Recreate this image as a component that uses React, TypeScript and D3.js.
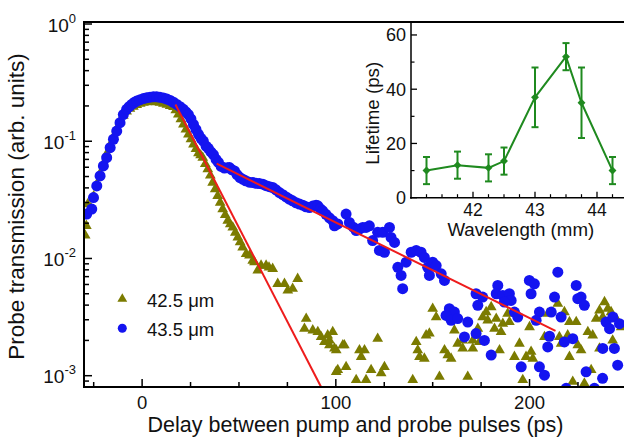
import React from 'react';
import * as d3 from 'd3';

// ---- Main plot data: delay (ps), probe transmission (arb. units) ----
const blueData: [number, number][] = [
  [-28.6, 0.0239], [-26.0, 0.0264], [-25.1, 0.0331], [-23.4, 0.0416], [-21.7, 0.0506], [-20.0, 0.0615],
  [-18.3, 0.0724], [-16.5, 0.0881], [-14.8, 0.104], [-13.1, 0.122], [-11.4, 0.144], [-9.7, 0.169],
  [-8.0, 0.187], [-6.7, 0.197], [-5.4, 0.206], [-4.1, 0.214], [-2.8, 0.22], [-1.0, 0.226], [0.7, 0.231],
  [2.4, 0.235], [4.1, 0.2375], [5.8, 0.239], [7.5, 0.239], [9.2, 0.237], [11.0, 0.234], [12.8, 0.229],
  [14.5, 0.223], [16.2, 0.215], [17.9, 0.206], [19.6, 0.197], [21.3, 0.187], [22.6, 0.178], [23.9, 0.169],
  [25.2, 0.155], [26.5, 0.139], [27.8, 0.126], [29.1, 0.1145], [30.4, 0.106], [31.6, 0.1004], [33.0, 0.091],
  [34.2, 0.087], [35.5, 0.081], [36.8, 0.077], [38.2, 0.07], [39.4, 0.066], [40.8, 0.061], [42.5, 0.059],
  [44.0, 0.0595], [45.1, 0.0596], [46.4, 0.057], [47.7, 0.0558], [49.0, 0.052], [50.5, 0.049], [51.9, 0.0475],
  [53.5, 0.046], [55.3, 0.0447], [57.1, 0.0444], [58.8, 0.0438], [60.5, 0.0435], [62.3, 0.043], [64.0, 0.0418],
  [65.7, 0.041], [67.4, 0.0403], [69.1, 0.0385], [70.9, 0.0365], [72.6, 0.035], [74.3, 0.0335], [76.0, 0.0321],
  [77.7, 0.031], [79.5, 0.0298], [81.2, 0.0291], [82.9, 0.0285], [84.6, 0.0276], [86.4, 0.0272], [88.1, 0.028],
  [89.8, 0.0285], [90.7, 0.0281], [92.0, 0.0265], [93.2, 0.0255], [94.9, 0.0238], [96.7, 0.0222], [98.4, 0.021],
  [99.3, 0.019], [101.0, 0.0197], [105.3, 0.0239], [107.0, 0.0203], [109.0, 0.0185], [110.5, 0.0173],
  [112.2, 0.0178], [113.9, 0.0184], [115.6, 0.0184], [117.3, 0.019], [119.0, 0.0142], [121.6, 0.0167],
  [124.2, 0.0167], [122.5, 0.0117], [125.1, 0.0113], [127.7, 0.0184], [128.5, 0.0151], [130.3, 0.0137],
  [132.0, 0.0084], [133.7, 0.00716], [134.5, 0.00552], [136.3, 0.00929], [138.9, 0.0113], [141.5, 0.0117],
  [144.0, 0.0113], [145.7, 0.0102], [147.4, 0.0084], [148.3, 0.00716], [150.0, 0.00929], [151.8, 0.0087],
  [154.4, 0.0074], [156.1, 0.00649], [158.6, 0.00373], [161.2, 0.00349], [156.9, 0.00327], [159.5, 0.00297],
  [162.9, 0.00307], [168.1, 0.00287], [166.4, 0.00214], [172.4, 0.005], [173.3, 0.00398], [172.4, 0.00229],
  [175.8, 0.00468], [183.6, 0.00589], [182.8, 0.005], [186.2, 0.00484], [189.6, 0.005], [190.5, 0.00439],
  [187.0, 0.00425], [192.2, 0.00349], [193.9, 0.00316], [199.9, 0.00649], [202.5, 0.00608], [200.8, 0.005],
  [205.1, 0.00349], [203.4, 0.00297], [214.6, 0.00764], [212.9, 0.00468], [211.2, 0.00349], [216.3, 0.00316],
  [210.3, 0.00217], [209.4, 0.00176], [205.1, 0.00119], [207.7, 0.00101], [195.7, 0.00119], [180.2, 0.0015],
  [176.7, 0.002], [224.1, 0.00589], [226.6, 0.00468], [224.9, 0.00454], [228.3, 0.00398], [222.3, 0.00207],
  [218.0, 0.00194], [237.8, 0.00171], [239.5, 0.00287], [243.0, 0.00316], [241.3, 0.00252], [246.4, 0.00278],
  [243.8, 0.00171], [245.5, 0.00123], [229.2, 0.00108], [218.9, 0.00078], [233.5, 0.00078], [237.7, 0.00095],
];

const oliveData: [number, number][] = [
  [-29.4, 0.0157], [-28.8, 0.019], [-28.1, 0.0291], [-26.5, 0.027], [-25.0, 0.034], [-23.4, 0.043],
  [-21.7, 0.053], [-20.0, 0.064], [-18.3, 0.078], [-16.5, 0.093], [-14.8, 0.109], [-13.1, 0.127],
  [-11.4, 0.148], [-9.7, 0.165], [-8.0, 0.18], [-6.3, 0.19], [-4.5, 0.197], [-2.8, 0.204], [-1.0, 0.209],
  [0.7, 0.213], [2.4, 0.216], [4.1, 0.217], [5.8, 0.217], [7.5, 0.216], [9.2, 0.213], [11.0, 0.209],
  [12.8, 0.205], [14.5, 0.2], [16.2, 0.196], [17.4, 0.184], [18.7, 0.169], [20.0, 0.154], [21.3, 0.139],
  [22.6, 0.126], [23.9, 0.1145], [25.2, 0.104], [26.5, 0.094], [27.8, 0.086], [29.1, 0.079], [30.2, 0.076],
  [31.3, 0.0724], [32.6, 0.064], [33.9, 0.0577], [35.2, 0.051], [36.4, 0.0444], [37.7, 0.039], [39.0, 0.0342],
  [40.3, 0.03], [41.6, 0.0264], [42.9, 0.0235], [44.2, 0.021], [45.5, 0.0196], [46.8, 0.0184], [48.1, 0.0166],
  [49.4, 0.0151], [50.6, 0.0138], [51.9, 0.01245], [53.7, 0.01094], [55.4, 0.0106], [57.1, 0.0096],
  [58.0, 0.0093], [59.7, 0.0079], [61.4, 0.0087], [64.0, 0.0087], [65.5, 0.0084], [67.4, 0.00816],
  [70.0, 0.00608], [73.5, 0.00608], [75.2, 0.00533], [77.7, 0.00552], [80.3, 0.00671], [84.7, 0.00307],
  [83.8, 0.00252], [88.1, 0.00244], [90.7, 0.00236], [92.4, 0.00214], [95.8, 0.00221], [98.4, 0.00236],
  [94.1, 0.00194], [96.7, 0.00182], [100.2, 0.00165], [104.4, 0.00182], [101.0, 0.00112], [105.3, 0.00119],
  [96.7, 0.002], [99.3, 0.00171], [103.6, 0.00182], [100.2, 0.00108], [110.5, 0.00092], [115.6, 0.00092],
  [112.2, 0.00165], [114.8, 0.00165], [113.1, 0.00145], [121.6, 0.00207], [118.2, 0.00112], [123.4, 0.00105],
  [125.1, 0.00119], [139.7, 0.00092], [141.5, 0.00194], [142.3, 0.00165], [143.2, 0.00145], [145.7, 0.0014],
  [146.6, 0.00221], [148.3, 0.00229], [150.0, 0.00373], [151.8, 0.00316], [156.1, 0.00165], [157.8, 0.0015],
  [159.5, 0.0014], [161.2, 0.00244], [162.9, 0.00188], [165.5, 0.00171], [170.7, 0.00171], [153.5, 0.00098],
  [168.1, 0.00098], [172.4, 0.00221], [174.1, 0.00194], [170.7, 0.002], [173.3, 0.00252], [175.8, 0.00316],
  [177.6, 0.00349], [180.2, 0.00385], [178.4, 0.00297], [182.8, 0.00307], [181.9, 0.00252], [186.2, 0.00278],
  [185.3, 0.00236], [188.7, 0.00338], [189.6, 0.00287], [184.5, 0.00165], [194.8, 0.00188], [200.0, 0.0026],
  [198.2, 0.00145], [200.8, 0.0016], [201.7, 0.0014], [196.5, 0.00092], [209.4, 0.00338], [207.7, 0.00214],
  [214.6, 0.00411], [218.0, 0.00349], [216.3, 0.00188], [219.7, 0.00221], [220.6, 0.00145], [222.3, 0.00089],
  [224.1, 0.00287], [224.9, 0.00182], [226.6, 0.00165], [230.1, 0.00236], [232.6, 0.00221], [231.8, 0.00112],
  [234.4, 0.00307], [236.1, 0.0036], [238.7, 0.00425], [240.4, 0.00373], [237.8, 0.00316], [242.1, 0.00349],
  [244.7, 0.00307], [247.3, 0.0026], [242.9, 0.002], [228.3, 0.00086], [165.5, 0.002], [192.2, 0.00145],
  [215.4, 0.00214], [220.6, 0.00287], [236.1, 0.00171],
];

const fitFast: [number, number][] = [[17.2, 0.206], [92.4, 0.0008]];
const fitSlow: [number, number][] = [[38.5, 0.0644], [213.4, 0.00241]];

const xMajorTicks = [0, 100, 200];
const xMinorTicks = [-25, 25, 50, 75, 125, 150, 175, 225, 250];
const yDecades = [-3, -2, -1, 0];
const legendLabels = ['42.5 \u03BCm', '43.5 \u03BCm'];

// ---- Inset data ----
const wavelength = [41.25, 41.75, 42.25, 42.5, 43, 43.5, 43.75, 44.25];
const lifetime = [10, 12, 11, 13.5, 37, 52, 35, 10];
const lifetimeLow = [5, 7, 6, 8.5, 26, 47, 22, 5];
const lifetimeHigh = [15, 17, 16, 18.5, 48, 57, 48, 15];
const insetXTicks = [42, 43, 44];
const insetXMinor = [41.25, 41.5, 41.75, 42.25, 42.5, 42.75, 43.25, 43.5, 43.75, 44.25];
const insetYTicks = [0, 20, 40, 60];
const insetYMinor = [10, 30, 50];

const BLUE = '#1414f0';
const OLIVE = '#7b7b00';
const RED = '#ee1c1c';
const GREEN = '#1f8a1f';
const FONT = '"Liberation Sans", Arial, Helvetica, sans-serif';

export default function App() {
  const W = 624, H = 437;
  const left = 84, top = 22, bottom = 387, right = 624;
  const x = d3.scaleLinear().domain([-30, 250]).range([84, 626.4]);
  const y = d3.scaleLog().domain([1e-3, 1]).range([375.7, 24]);

  const yMinor: number[] = [];
  for (let d = -4; d <= 0; d++) {
    for (let k = 2; k <= 9; k++) {
      const v = k * Math.pow(10, d);
      if (y(v) <= bottom && y(v) >= top) yMinor.push(v);
    }
  }

  const tri = d3.symbol().type(d3.symbolTriangle).size(50)()!;
  const triLegend = d3.symbol().type(d3.symbolTriangle).size(42)()!;
  const line = d3.line<[number, number]>().x(d => x(d[0])).y(d => y(d[1]));

  // inset scales
  const ix = d3.scaleLinear().domain([41, 44.5]).range([411, 628]);
  const iy = d3.scaleLinear().domain([0, 65]).range([197.7, 21.4]);
  const insetPts = wavelength.map((w, i) => [w, lifetime[i]] as [number, number]);
  const insetLine = d3.line<[number, number]>().x(d => ix(d[0])).y(d => iy(d[1]));
  const diamond = d3.symbol().type(d3.symbolDiamond2).size(40)()!;

  return (
    <svg width={W} height={H} style={{ position: 'absolute', left: 0, top: 0, background: '#fff' }} fontFamily={FONT}>
      <rect x={0} y={0} width={W} height={H} fill="#fff" />
      <defs>
        <clipPath id="plotClip">
          <rect x={left} y={top} width={right - left} height={bottom - top} />
        </clipPath>
      </defs>
      <g clipPath="url(#plotClip)">
        {oliveData.map((d, i) => (
          <path key={'o' + i} d={tri} transform={`translate(${x(d[0])},${y(d[1])})`} fill={OLIVE} />
        ))}
        {blueData.map((d, i) => (
          <circle key={'b' + i} cx={x(d[0])} cy={y(d[1])} r={5.5} fill={BLUE} />
        ))}
        <path d={line(fitFast)!} stroke={RED} strokeWidth={2} fill="none" />
        <path d={line(fitSlow)!} stroke={RED} strokeWidth={2} fill="none" />
      </g>

      {/* main axes */}
      <line x1={left} x2={right} y1={top} y2={top} stroke="#000" strokeWidth={2} />
      <line x1={left} x2={left} y1={top - 1} y2={bottom + 1} stroke="#000" strokeWidth={2} />
      <line x1={left - 1} x2={right} y1={bottom} y2={bottom} stroke="#000" strokeWidth={2} />
      {xMajorTicks.map(t => (
        <g key={'xt' + t}>
          <line x1={x(t)} x2={x(t)} y1={bottom} y2={bottom - 8} stroke="#000" strokeWidth={1.5} />
          <text x={x(t)} y={409} fontSize={18.5} textAnchor="middle" fill="#111">{t}</text>
        </g>
      ))}
      {xMinorTicks.map(t => (
        <line key={'xm' + t} x1={x(t)} x2={x(t)} y1={bottom} y2={bottom - 5} stroke="#000" strokeWidth={1.5} />
      ))}
      {yDecades.map(d => (
        <g key={'yd' + d}>
          <line x1={left} x2={left + 8} y1={y(Math.pow(10, d))} y2={y(Math.pow(10, d))} stroke="#000" strokeWidth={1.5} />
          <text x={76} y={y(Math.pow(10, d)) + 7.5} fontSize={19} textAnchor="end" fill="#111">
            10<tspan dy={-9} fontSize={13}>{d}</tspan>
          </text>
        </g>
      ))}
      {yMinor.map((v, i) => (
        <line key={'ym' + i} x1={left} x2={left + 5} y1={y(v)} y2={y(v)} stroke="#000" strokeWidth={1.5} />
      ))}

      {/* axis titles */}
      <text x={355.5} y={432.3} fontSize={21.5} textAnchor="middle" fill="#111">Delay between pump and probe pulses (ps)</text>
      <text transform="translate(23.5,206.5) rotate(-90)" fontSize={22.5} textAnchor="middle" fill="#111">Probe transmission (arb. units)</text>

      {/* legend */}
      <path d={triLegend} transform="translate(122.3,299)" fill={OLIVE} />
      <text x={147} y={306.5} fontSize={18.5} fill="#111">{legendLabels[0]}</text>
      <circle cx={122.3} cy={328.3} r={4.5} fill={BLUE} />
      <text x={147} y={335.5} fontSize={18.5} fill="#111">{legendLabels[1]}</text>

      {/* inset */}
      <rect x={ix(41)} y={top + 1} width={right - ix(41)} height={iy(0) - top - 1} fill="#fff" />
      <line x1={ix(41)} x2={ix(41)} y1={top} y2={iy(0) + 1} stroke="#000" strokeWidth={1.5} />
      <line x1={ix(41) - 1} x2={right} y1={iy(0)} y2={iy(0)} stroke="#000" strokeWidth={1.5} />
      {insetYTicks.map(t => (
        <g key={'iy' + t}>
          <line x1={ix(41)} x2={ix(41) + 6} y1={iy(t)} y2={iy(t)} stroke="#000" strokeWidth={1.3} />
          <text x={406} y={iy(t) + 6.5} fontSize={18} textAnchor="end" fill="#111">{t}</text>
        </g>
      ))}
      {insetYMinor.map(t => (
        <line key={'iym' + t} x1={ix(41)} x2={ix(41) + 3.5} y1={iy(t)} y2={iy(t)} stroke="#000" strokeWidth={1.2} />
      ))}
      {insetXTicks.map(t => (
        <g key={'ix' + t}>
          <line x1={ix(t)} x2={ix(t)} y1={iy(0)} y2={iy(0) - 6} stroke="#000" strokeWidth={1.3} />
          <text x={ix(t)} y={216} fontSize={17.5} textAnchor="middle" fill="#111">{t}</text>
        </g>
      ))}
      {insetXMinor.map(t => (
        <line key={'ixm' + t} x1={ix(t)} x2={ix(t)} y1={iy(0)} y2={iy(0) - 3.5} stroke="#000" strokeWidth={1.2} />
      ))}
      <path d={insetLine(insetPts)!} stroke={GREEN} strokeWidth={2} fill="none" />
      {wavelength.map((w, i) => (
        <g key={'eb' + i} stroke={GREEN} strokeWidth={2}>
          <line x1={ix(w)} x2={ix(w)} y1={iy(lifetimeLow[i])} y2={iy(lifetimeHigh[i])} />
          <line x1={ix(w) - 3.5} x2={ix(w) + 3.5} y1={iy(lifetimeLow[i])} y2={iy(lifetimeLow[i])} />
          <line x1={ix(w) - 3.5} x2={ix(w) + 3.5} y1={iy(lifetimeHigh[i])} y2={iy(lifetimeHigh[i])} />
        </g>
      ))}
      {insetPts.map((d, i) => (
        <path key={'dm' + i} d={diamond} transform={`translate(${ix(d[0])},${iy(d[1])})`} fill={GREEN} />
      ))}
      <text transform="translate(379,113.3) rotate(-90)" fontSize={18.7} textAnchor="middle" fill="#111">Lifetime (ps)</text>
      <text x={520.8} y={236} fontSize={18.7} textAnchor="middle" fill="#111">Wavelength (mm)</text>
    </svg>
  );
}
